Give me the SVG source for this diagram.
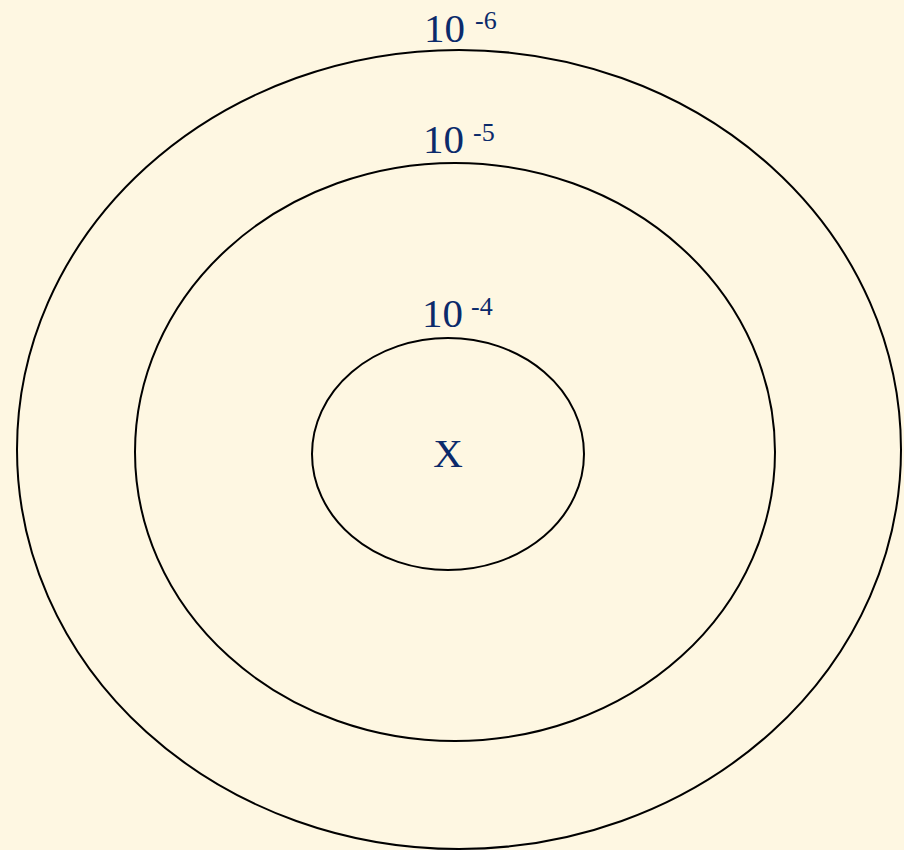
<svg xmlns="http://www.w3.org/2000/svg" width="904" height="850" viewBox="0 0 904 850">
<style>
.ring{fill:none;stroke:#000;stroke-width:2}
.lbl{font-family:"Liberation Serif","Times New Roman",serif;font-size:41px;fill:#0B2A6B}
.sup{font-size:26px}
</style>
<rect width="904" height="850" fill="#FEF7E2"/>
<g id="ring-outer"><ellipse class="ring" cx="459" cy="449.5" rx="442" ry="399.5"/>
<text class="lbl" x="424" y="42">10</text><text class="lbl sup" x="475" y="29">-6</text></g>
<g id="ring-middle"><ellipse class="ring" cx="455" cy="452" rx="320" ry="289"/>
<text class="lbl" x="423" y="153">10</text><text class="lbl sup" x="473" y="141">-5</text></g>
<g id="ring-inner"><ellipse class="ring" cx="448" cy="454" rx="136" ry="116"/>
<text class="lbl" x="422" y="327">10</text><text class="lbl sup" x="471" y="315">-4</text></g>
<g id="center"><text class="lbl" x="448" y="467" text-anchor="middle">X</text></g>
<g id="connectors"/>
</svg>
